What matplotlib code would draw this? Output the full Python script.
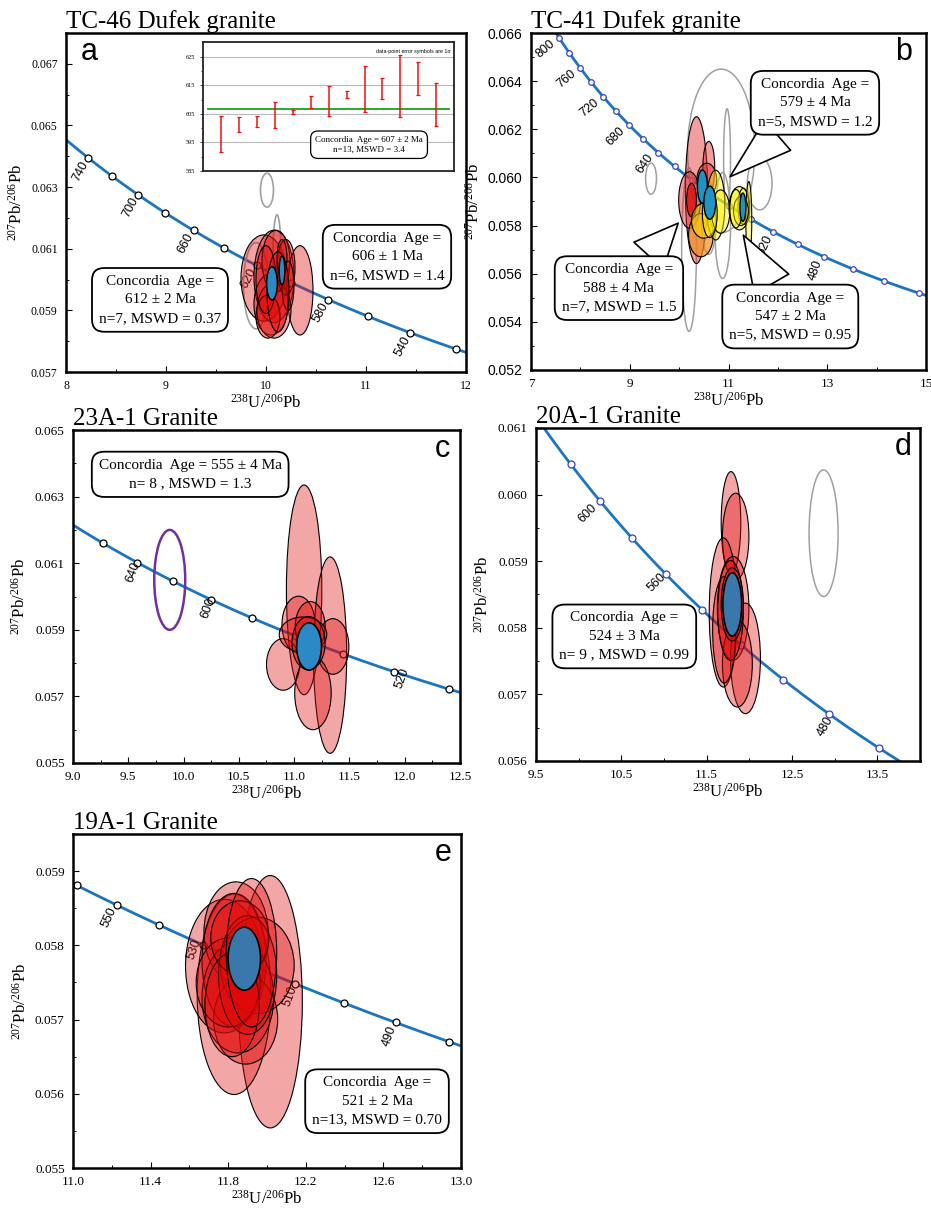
import numpy as np
import matplotlib.pyplot as plt
from matplotlib.patches import Ellipse
from matplotlib.colors import to_rgba
from matplotlib.ticker import FormatStrFormatter

plt.rcParams['font.family'] = ['Liberation Serif', 'DejaVu Serif']
plt.rcParams['mathtext.default'] = 'regular'
SANS = ['Liberation Sans', 'DejaVu Sans']

# decay constants used for the concordia curve
L238 = 1.55125e-10
L235 = 9.8485e-10
U85 = 137.88

RED = '#e00808'
LINE = '#1b75c2'

# ---------------- data ----------------
# panel a (TC-46)
a_marker_ages = [740, 720, 700, 680, 660, 640, 620, 600, 580, 560, 540, 520]
a_label_ages = [740, 700, 660, 620, 580, 540]
a_red_x = [9.98, 10.08, 10.34, 10.05, 10.08, 10.02, 10.10, 10.20, 10.16, 10.00, 10.22, 10.12]
a_red_y = [0.06005, 0.0601, 0.05965, 0.0592, 0.0590, 0.0588, 0.0606, 0.0604, 0.0607, 0.0600, 0.0598, 0.0596]
a_red_w = [0.46, 0.40, 0.26, 0.34, 0.34, 0.24, 0.28, 0.18, 0.10, 0.20, 0.12, 0.22]
a_red_h = [0.0028, 0.0030, 0.0029, 0.0020, 0.0018, 0.0014, 0.0020, 0.0018, 0.0012, 0.0022, 0.0016, 0.0026]
a_blue_x = [10.06, 10.16]
a_blue_y = [0.05988, 0.0603]
a_blue_w = [0.107, 0.057]
a_blue_h = [0.00108, 0.00094]
a_grey_x = [10.01, 10.11, 9.90]
a_grey_y = [0.0629, 0.0608, 0.0598]
a_grey_w = [0.13, 0.08, 0.25]
a_grey_h = [0.0011, 0.0026, 0.0028]

# inset of panel a: single-grain ages (Ma), 1 sigma
inset_lo = [591.8, 598.5, 600.3, 600.0, 605.1, 607.1, 604.2, 610.4, 605.5, 610.1, 603.9, 611.5, 600.9]
inset_hi = [604.1, 604.0, 604.2, 609.1, 606.4, 611.2, 614.9, 613.0, 621.6, 617.7, 625.5, 623.0, 615.9]
inset_mean = 606.7

# panel b (TC-41)
b_marker_ages = list(range(800, 419, -20))
b_label_ages = [800, 760, 720, 680, 640, 520, 480]
b_grey_x = [10.85, 10.20, 10.97, 11.63, 9.43, 10.88, 10.60]
b_grey_y = [0.0611, 0.0570, 0.0608, 0.05975, 0.05995, 0.0580, 0.0583]
b_grey_w = [1.36, 0.30, 0.14, 0.50, 0.22, 0.32, 0.30]
b_grey_h = [0.0068, 0.0068, 0.0041, 0.0022, 0.0013, 0.0044, 0.0030]
b_red_x = [10.35, 10.60, 10.21, 10.56]
b_red_y = [0.05947, 0.06042, 0.05906, 0.0599]
b_red_w = [0.45, 0.24, 0.44, 0.40]
b_red_h = [0.0061, 0.00215, 0.00235, 0.00138]
b_dark_x, b_dark_y, b_dark_w, b_dark_h = [10.25], [0.05906], [0.20], [0.0014]
b_orange_x, b_orange_y, b_orange_w, b_orange_h = [10.44], [0.0576], [0.50], [0.0018]
b_yel_x = [10.74, 10.50, 10.84, 10.62, 11.22, 11.30, 11.41, 11.25, 11.15]
b_yel_y = [0.05885, 0.0582, 0.05858, 0.0585, 0.05872, 0.0588, 0.05823, 0.0586, 0.0587]
b_yel_w = [0.37, 0.50, 0.37, 0.30, 0.42, 0.22, 0.12, 0.30, 0.25]
b_yel_h = [0.0029, 0.00145, 0.0018, 0.0020, 0.0018, 0.0015, 0.0032, 0.0012, 0.0016]
b_blue_x = [10.47, 10.62, 11.29]
b_blue_y = [0.05962, 0.05895, 0.05876]
b_blue_w = [0.20, 0.24, 0.12]
b_blue_h = [0.00138, 0.00138, 0.00118]

# panel c (23A-1)
c_marker_ages = [660, 640, 620, 600, 580, 560, 540, 520, 500]
c_label_ages = [640, 600, 520]
c_red_x = [11.09, 11.325, 10.90, 11.35, 11.04, 11.145, 11.08, 11.17, 11.13]
c_red_y = [0.0602, 0.05824, 0.05796, 0.0585, 0.05916, 0.0591, 0.05886, 0.0571, 0.0586]
c_red_w = [0.32, 0.30, 0.30, 0.29, 0.30, 0.27, 0.43, 0.33, 0.30]
c_red_h = [0.0063, 0.0059, 0.00155, 0.00167, 0.0017, 0.0015, 0.00105, 0.0022, 0.0016]
c_blue_x, c_blue_y, c_blue_w, c_blue_h = [11.135], [0.0585], [0.225], [0.00142]
c_purple_x, c_purple_y, c_purple_w, c_purple_h = [9.875], [0.0605], [0.28], [0.0030]

# panel d (20A-1)
d_marker_ages = [620, 600, 580, 560, 540, 520, 500, 480, 460]
d_label_ages = [600, 560, 480]
d_red_x = [11.785, 11.84, 11.695, 11.81, 11.955, 11.86, 11.705, 11.78, 11.80]
d_red_y = [0.05958, 0.05937, 0.05823, 0.05829, 0.05754, 0.05746, 0.05797, 0.05826, 0.05835]
d_red_w = [0.23, 0.31, 0.33, 0.37, 0.35, 0.35, 0.27, 0.30, 0.26]
d_red_h = [0.00153, 0.0013, 0.00224, 0.00156, 0.00166, 0.0013, 0.0016, 0.0015, 0.0011]
d_blue_x, d_blue_y, d_blue_w, d_blue_h = [11.80], [0.05835], [0.22], [0.00095]
d_grey_x, d_grey_y, d_grey_w, d_grey_h = [12.87], [0.05942], [0.34], [0.0019]

# panel e (19A-1)
e_marker_ages = [560, 550, 540, 530, 520, 510, 500, 490, 480]
e_label_ages = [550, 530, 510, 490]
e_red_x = [12.017, 11.83, 11.78, 11.84, 11.83, 11.95, 11.89, 11.85, 11.80, 11.90, 11.86, 11.82, 11.92]
e_red_y = [0.05724, 0.05734, 0.05772, 0.05818, 0.0578, 0.05773, 0.0570, 0.0573, 0.0575, 0.0576, 0.0581, 0.0572, 0.0579]
e_red_w = [0.33, 0.38, 0.40, 0.33, 0.33, 0.38, 0.33, 0.37, 0.33, 0.30, 0.30, 0.28, 0.26]
e_red_h = [0.0034, 0.0027, 0.0018, 0.00135, 0.0018, 0.0013, 0.0012, 0.0015, 0.0012, 0.0016, 0.0010, 0.0014, 0.0020]
e_blue_x, e_blue_y, e_blue_w, e_blue_h = [11.883], [0.05782], [0.167], [0.00085]


# ---------------- helpers ----------------
def concordia(age_ma):
    t = np.asarray(age_ma, dtype=float) * 1e6
    e8 = np.exp(L238 * t) - 1.0
    e5 = np.exp(L235 * t) - 1.0
    return 1.0 / e8, e5 / e8 / U85


def age_from_x(x):
    return np.log(1.0 + 1.0 / x) / L238 / 1e6


def ellipses(ax, xs, ys, ws, hs, fc, alpha, ec='black', lw=0.8, z=3):
    for x, y, w, h in zip(xs, ys, ws, hs):
        face = 'none' if fc == 'none' else to_rgba(fc, alpha)
        ax.add_patch(Ellipse((x, y), w, h, facecolor=face, edgecolor=ec, lw=lw, zorder=z))


def concordia_curve(ax, marker_ages, label_ages, offsets, rots, mec='black', ms=5):
    x0, x1 = ax.get_xlim()
    ages = np.linspace(age_from_x(x1 * 1.02), age_from_x(x0 * 0.98), 400)
    cx, cy = concordia(ages)
    ax.plot(cx, cy, color=LINE, lw=2, zorder=1)
    mx, my = concordia(marker_ages)
    ax.plot(mx, my, 'o', ms=ms, mfc='white', mec=mec, mew=0.9, zorder=1.2)
    lx, ly = concordia(label_ages)
    for age, x, y, off, r in zip(label_ages, lx, ly, offsets, rots):
        ax.annotate(str(age), (x, y), xytext=off, textcoords='offset points',
                    rotation=r, ha='center', va='center', fontsize=9, family=SANS, zorder=1.3)


BOX = dict(boxstyle='round,pad=0.45,rounding_size=0.8', fc='white', ec='black', lw=1.3)


def age_box(ax, x, y, text, fs=11):
    ax.text(x, y, text, ha='center', va='center', fontsize=fs, linespacing=1.55, zorder=6, bbox=BOX)


def panel(rect, title, letter, xlim, ylim, xt, xtm, yt, ytm, xfmt, yfmt, tfs, ysans=False):
    ax = fig.add_axes(rect)
    ax.set_xlim(xlim)
    ax.set_ylim(ylim)
    ax.set_xticks(xt)
    ax.set_xticks(xtm, minor=True)
    ax.set_yticks(yt)
    ax.set_yticks(ytm, minor=True)
    ax.xaxis.set_major_formatter(FormatStrFormatter(xfmt))
    ax.yaxis.set_major_formatter(FormatStrFormatter(yfmt))
    ax.tick_params(which='major', direction='in', length=4, width=0.8, labelsize=tfs, pad=6)
    ax.tick_params(which='minor', direction='in', length=2.5, width=0.7)
    if ysans:
        for lab in ax.get_yticklabels():
            lab.set_family(SANS)
            lab.set_fontsize(10)
    for s in ax.spines.values():
        s.set_linewidth(1.8)
    ax.set_xlabel('$^{238}$U/$^{206}$Pb', fontsize=12, labelpad=1)
    ax.set_ylabel('$^{207}$Pb/$^{206}$Pb', fontsize=12, labelpad=4)
    ax.text(0.0, 1.0, title, transform=ax.transAxes, fontsize=18, ha='left', va='bottom')
    ax.text(0.955, 0.943, letter, transform=ax.transAxes, fontsize=22, family=SANS,
            ha='center', va='center', zorder=7)
    return ax


def callout(ax, text, target, centre):
    wedge = dict(arrowstyle='wedge,tail_width=2.6,shrink_factor=0.5', fc='white', ec='black',
                 lw=1.2, shrinkA=0, shrinkB=0)
    ax.annotate(text, target, xytext=centre, ha='center', va='center', fontsize=11,
                linespacing=1.55, bbox=BOX, arrowprops=wedge, zorder=6)


fig = plt.figure(figsize=(9.31, 12.09), dpi=100)

# ---------------- panel a ----------------
ax = panel([0.0709, 0.6923, 0.4296, 0.2804], 'TC-46 Dufek granite', 'a',
           (8, 12), (0.057, 0.068), np.arange(8, 12.1, 1), np.arange(8.5, 12, 1),
           np.arange(0.057, 0.0675, 0.002), np.arange(0.058, 0.068, 0.002),
           '%g', '%.3f', 8.5)
ax.texts[-1].set_position((0.0575, 0.944))
concordia_curve(ax, a_marker_ages, a_label_ages, [(-5.5, -9.5)] * 6, [62] * 6)
ellipses(ax, a_grey_x, a_grey_y, a_grey_w, a_grey_h, 'none', 1, ec='#a0a0a0', lw=1.2, z=2)
ellipses(ax, a_red_x, a_red_y, a_red_w, a_red_h, RED, 0.38)
ellipses(ax, a_blue_x, a_blue_y, a_blue_w, a_blue_h, '#2b8ac6', 1, lw=1.1, z=4)
age_box(ax, 8.94, 0.05934, 'Concordia  Age =\n612 ± 2 Ma\nn=7, MSWD = 0.37')
age_box(ax, 11.21, 0.06074, 'Concordia  Age =\n606 ± 1 Ma\nn=6, MSWD = 1.4')

# inset
ins = fig.add_axes([0.2184, 0.8586, 0.2693, 0.1063])
idx = np.arange(1, len(inset_lo) + 1)
lo = np.array(inset_lo)
hi = np.array(inset_hi)
ins.set_xlim(0, 14)
ins.set_ylim(585, 630)
ins.set_xticks([])
ins.set_yticks([585, 595, 605, 615, 625])
ins.set_yticks([590, 600, 610, 620], minor=True)
ins.grid(axis='y', color='#b8b8b8', lw=0.8)
ins.tick_params(axis='y', labelsize=4.5, length=2, width=0.5, pad=4)
ins.tick_params(axis='y', which='minor', length=1.5, width=0.5)
for s in ins.spines.values():
    s.set_linewidth(1.3)
    s.set_color('#222222')
ins.errorbar(idx, (lo + hi) / 2, yerr=(hi - lo) / 2, fmt='none', ecolor='#ee1111',
             elinewidth=1.1, capsize=1.4, capthick=0.9, zorder=3)
ins.axhline(inset_mean, xmin=0.02, xmax=0.98, color='#1e9e1e', lw=1.3, zorder=2)
ins.text(0.985, 0.95, 'data-point error symbols are 1σ', transform=ins.transAxes,
         fontsize=3.8, family=SANS, ha='right', va='top')
ins.text(0.661, 0.204, 'Concordia  Age = 607 ± 2 Ma\nn=13, MSWD = 3.4', transform=ins.transAxes,
         fontsize=6.5, ha='center', va='center', linespacing=1.4,
         bbox=dict(boxstyle='round,pad=0.5,rounding_size=0.8', fc='white', ec='black', lw=0.9))

# ---------------- panel b ----------------
ax = panel([0.5704, 0.6940, 0.4243, 0.2787], 'TC-41 Dufek granite', 'b',
           (7, 15), (0.052, 0.066), np.arange(7, 15.1, 2), np.arange(8, 15, 2),
           np.arange(0.052, 0.0665, 0.002), np.arange(0.053, 0.066, 0.002),
           '%g', '%.3f', 9.5, ysans=True)
ax.texts[-1].set_position((0.942, 0.944))
concordia_curve(ax, b_marker_ages, b_label_ages,
                [(-10, -8)] * 5 + [(-6, -10)] * 2, [40, 40, 40, 45, 55, 65, 70],
                mec='#3344cc', ms=4)
ellipses(ax, b_grey_x, b_grey_y, b_grey_w, b_grey_h, 'none', 1, ec='#a0a0a0', lw=1.1, z=2)
ellipses(ax, b_red_x, b_red_y, b_red_w, b_red_h, '#e02828', 0.45)
ellipses(ax, b_orange_x, b_orange_y, b_orange_w, b_orange_h, '#f09020', 0.7)
ellipses(ax, b_dark_x, b_dark_y, b_dark_w, b_dark_h, '#e01010', 0.8)
ellipses(ax, b_yel_x, b_yel_y, b_yel_w, b_yel_h, '#fff000', 0.45)
ellipses(ax, b_blue_x, b_blue_y, b_blue_w, b_blue_h, '#1e93c4', 1, lw=1.0, z=4)
callout(ax, 'Concordia  Age =\n579 ± 4 Ma\nn=5, MSWD = 1.2', (11.03, 0.06003), (12.75, 0.0631))
callout(ax, 'Concordia  Age =\n588 ± 4 Ma\nn=7, MSWD = 1.5', (9.98, 0.0581), (8.78, 0.0554))
callout(ax, 'Concordia  Age =\n547 ± 2 Ma\nn=5, MSWD = 0.95', (11.3, 0.0576), (12.25, 0.05422))

# ---------------- panel c ----------------
ax = panel([0.0784, 0.3689, 0.4157, 0.2754], '23A-1 Granite', 'c',
           (9.0, 12.5), (0.055, 0.065), np.arange(9.0, 12.51, 0.5), np.arange(9.25, 12.5, 0.5),
           np.arange(0.055, 0.0655, 0.002), np.arange(0.056, 0.065, 0.002),
           '%.1f', '%.3f', 9.5)
concordia_curve(ax, c_marker_ages, c_label_ages, [(-3, -7), (-2, -6), (6, -5)], [70, 70, 70])
ellipses(ax, c_purple_x, c_purple_y, c_purple_w, c_purple_h, 'none', 1, ec='#7030a0', lw=1.8, z=2)
ellipses(ax, c_red_x, c_red_y, c_red_w, c_red_h, RED, 0.36)
ellipses(ax, c_blue_x, c_blue_y, c_blue_w, c_blue_h, '#2b8ac6', 1, lw=1.2, z=4)
age_box(ax, 10.06, 0.06367, 'Concordia  Age = 555 ± 4 Ma\nn= 8 , MSWD = 1.3')

# ---------------- panel d ----------------
ax = panel([0.5757, 0.3706, 0.4125, 0.2754], '20A-1 Granite', 'd',
           (9.5, 14.0), (0.056, 0.061), np.arange(9.5, 13.6, 1.0), np.arange(10.0, 14.0, 1.0),
           np.arange(0.056, 0.0611, 0.001), np.arange(0.0565, 0.061, 0.001),
           '%.1f', '%.3f', 9.5)
concordia_curve(ax, d_marker_ages, d_label_ages, [(-9, -8.5), (-6, -6.5), (-3, -9)], [45, 45, 60],
                mec='#3344cc', ms=5)
ellipses(ax, d_grey_x, d_grey_y, d_grey_w, d_grey_h, 'none', 1, ec='#a0a0a0', lw=1.1, z=2)
ellipses(ax, d_red_x, d_red_y, d_red_w, d_red_h, RED, 0.36)
ellipses(ax, d_blue_x, d_blue_y, d_blue_w, d_blue_h, '#3a78ab', 1, lw=1.2, z=4)
age_box(ax, 10.535, 0.05787, 'Concordia  Age =\n524 ± 3 Ma\nn= 9 , MSWD = 0.99')

# ---------------- panel e ----------------
ax = panel([0.0784, 0.0339, 0.4168, 0.2763], '19A-1 Granite', 'e',
           (11.0, 13.0), (0.055, 0.0595), np.arange(11.0, 13.01, 0.4), np.arange(11.2, 13.0, 0.4),
           np.arange(0.055, 0.0591, 0.001), np.arange(0.0555, 0.0595, 0.001),
           '%.1f', '%.3f', 9.5)
concordia_curve(ax, e_marker_ages, e_label_ages, [(-5.5, -8.5), (-6, -3), (-4, -9), (-4, -9.5)],
                [65, 70, 70, 70])
ellipses(ax, e_red_x, e_red_y, e_red_w, e_red_h, RED, 0.36)
ellipses(ax, e_blue_x, e_blue_y, e_blue_w, e_blue_h, '#3a78ab', 1, lw=1.2, z=4)
age_box(ax, 12.567, 0.0559, 'Concordia  Age =\n521 ± 2 Ma\nn=13, MSWD = 0.70')

fig.savefig('out.png', dpi=100)
